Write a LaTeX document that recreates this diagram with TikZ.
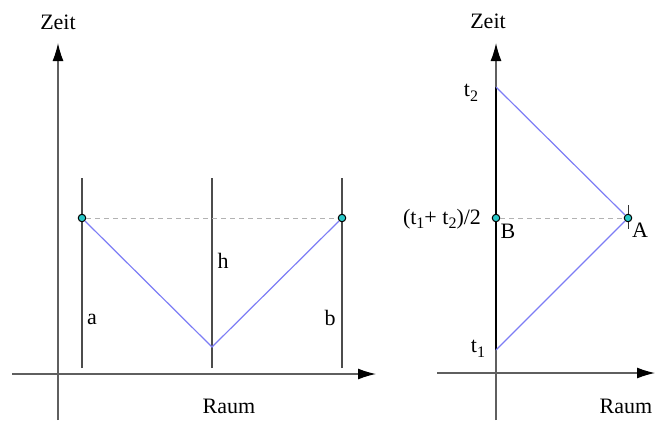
\documentclass[tikz,border=0pt]{standalone}
\usepackage{fontspec}
\setmainfont{Liberation Serif}
\usetikzlibrary{positioning, arrows.meta}

\definecolor{axisgray}{RGB}{95,95,95}
\definecolor{raycol}{RGB}{125,125,245}
\definecolor{dotcol}{RGB}{40,200,200}

\newcommand{\lowidx}[1]{\raisebox{-0.45ex}{\fontsize{16}{16}\selectfont #1}}

\tikzset{
    axis/.style={draw=axisgray, line width=1.3pt, -{Latex[length=18pt,width=11pt,black]}},
    world/.style={draw=black!70, line width=1.1pt},
    ray/.style={draw=raycol, line width=1.2pt},
    guide/.style={draw=black!30, line width=0.9pt, dash pattern=on 5pt off 4pt},
    dot/.style={circle, draw=black, fill=dotcol, line width=1pt, inner sep=0pt, minimum size=7.5pt},
    lbl/.style={inner sep=0pt, font=\fontsize{22}{25}\selectfont}
}

\begin{document}
\begin{tikzpicture}[x=1pt, y=-1pt]
    \useasboundingbox (0,0) rectangle (655,420);

    % Left diagram - axes
    \coordinate (ly0) at (58,420);
    \coordinate (ly1) at (58,43);
    \coordinate (lx0) at (12,374);
    \coordinate (lx1) at (376,374);
    \draw[axis] (ly0) -- (ly1);
    \draw[axis] (lx0) -- (lx1);
    \node[lbl] (zeitL) at (58,22) {Zeit};
    \node[lbl] (raumL) at (229,406) {Raum};

    % World lines a, h, b
    \foreach \name/\x in {a/82, h/212, b/342} {
        \coordinate (\name top) at (\x,178);
        \coordinate (\name bot) at (\x,368);
        \draw[world] (\name bot) -- (\name top);
    }
    \node[lbl] (la) at (92,319) {a};
    \node[lbl] (lh) at (223,261) {h};
    \node[lbl] (lb) at (330,318) {b};

    % Light signal reflected at h
    \node[dot] (P) at (82,218) {};
    \node[dot] (Q) at (342,218) {};
    \coordinate (V) at (212,347);
    \draw[guide] (P) -- (Q);
    \draw[ray] (P) -- (V) -- (Q);

    % Right diagram - axes
    \coordinate (ry0) at (496,420);
    \coordinate (ry1) at (496,43);
    \coordinate (rx0) at (437,373);
    \coordinate (rx1) at (655,373);
    \draw[axis] (ry0) -- (ry1);
    \draw[axis] (rx0) -- (rx1);
    \node[lbl] (zeitR) at (488,21) {Zeit};
    \node[lbl] (raumR) at (626,406) {Raum};

    % Clock on the time axis, from t1 to t2
    \coordinate (T1) at (496,350);
    \coordinate (T2) at (496,87);
    \draw[black, line width=2pt] (T1) -- (T2);
    \node[lbl] (t1) at (478,349) {t\lowidx{1}};
    \node[lbl] (t2) at (471,93) {t\lowidx{2}};
    \node[lbl] (tm) at (442,219) {(t\lowidx{1}+ t\lowidx{2})/2};

    % Event A and its simultaneous event B
    \coordinate (Atop) at (628,205);
    \coordinate (Abot) at (628,229);
    \draw[black!80, line width=1pt] (Atop) -- (Abot);
    \node[dot] (B) at (496,218) {};
    \node[dot] (A) at (628,218) {};
    \node[lbl] (lB) at (508,231) {B};
    \node[lbl] (lA) at (640,230) {A};
    \draw[guide] (B) -- (A);
    \draw[ray] (T1) -- (A) -- (T2);
\end{tikzpicture}
\end{document}
